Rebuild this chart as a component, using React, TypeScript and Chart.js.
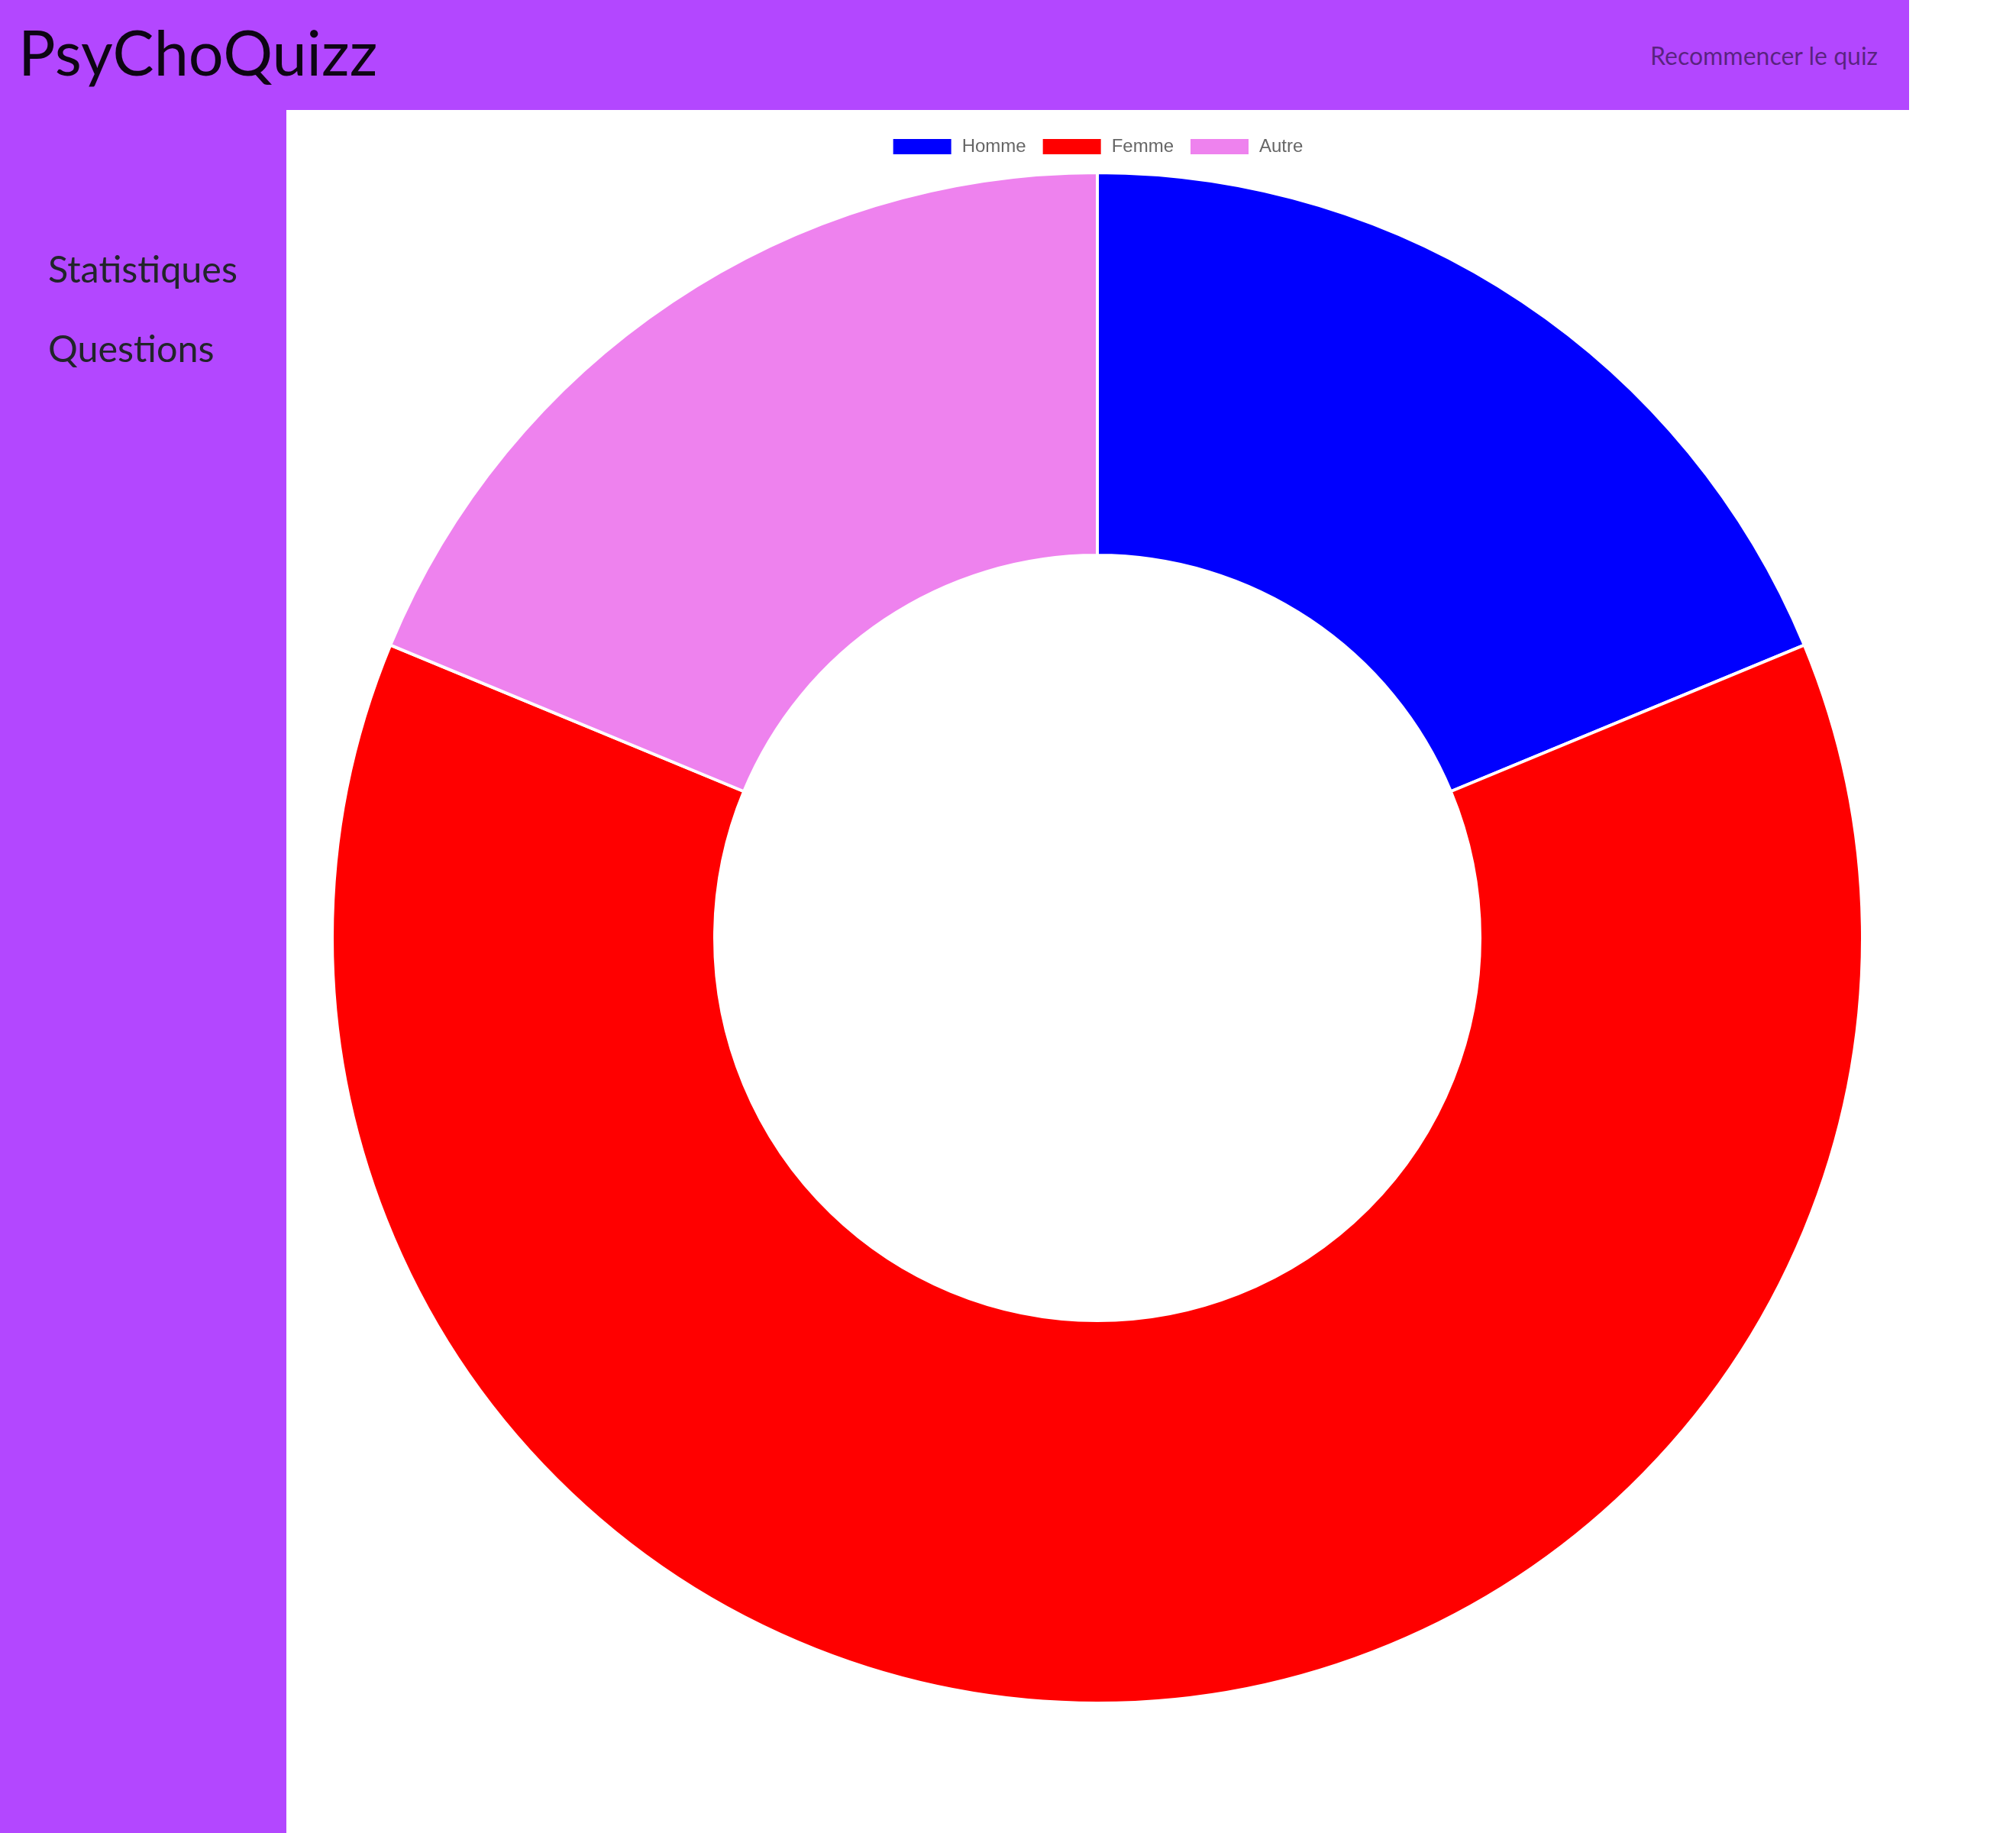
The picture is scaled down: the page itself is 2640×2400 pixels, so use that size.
import React, { useEffect, useRef } from "react";
import { Chart, registerables } from "chart.js";

Chart.register(...registerables);

// ---- data ----
const categories: string[] = ["Homme", "Femme", "Autre"];
const counts: number[] = [3, 10, 3];
const sliceColors: string[] = ["#0000ff", "#ff0000", "#ee82ee"];
const navLinks: string[] = ["Statistiques", "Questions"];
const brand = "PsyChoQuizz";
const restartLabel = "Recommencer le quiz";

const PURPLE = "#b347ff";

export default function App() {
  const ref = useRef<HTMLCanvasElement>(null);

  useEffect(() => {
    document.body.style.margin = "0";
    const canvas = ref.current;
    if (!canvas) return;
    const chart = new Chart(canvas, {
      type: "doughnut",
      data: {
        labels: categories,
        datasets: [
          {
            data: counts,
            backgroundColor: sliceColors,
            borderColor: "#ffffff",
            borderWidth: 4,
            hoverBorderWidth: 4,
            hoverOffset: 0,
          },
        ],
      },
      options: {
        responsive: false,
        animation: false,
        devicePixelRatio: 1,
        cutout: "50%",
        layout: { padding: 0 },
        plugins: {
          legend: {
            position: "top",
            labels: {
              boxWidth: 80,
              padding: 20,
              color: "#666666",
              font: { size: 24, family: "'Liberation Sans', Arial, Helvetica, sans-serif" },
            },
          },
          tooltip: { enabled: false },
        },
      },
    });
    return () => chart.destroy();
  }, []);

  const lato = "Lato, 'Noto Sans', sans-serif";

  return (
    <div
      style={{
        position: "fixed",
        left: 0,
        top: 0,
        width: 2640,
        height: 2400,
        overflow: "hidden",
        background: "#ffffff",
      }}
    >
      {/* header */}
      <div style={{ position: "absolute", left: 0, top: 0, width: 2500, height: 144, background: PURPLE }} />
      {/* sidebar */}
      <div style={{ position: "absolute", left: 0, top: 144, width: 375, height: 2256, background: PURPLE }} />

      <div
        style={{
          position: "absolute",
          left: 24,
          top: 27,
          fontFamily: lato,
          fontSize: 81,
          lineHeight: "81px",
          color: "rgba(0,0,0,0.92)",
          whiteSpace: "nowrap",
        }}
      >
        {brand}
      </div>

      <div
        style={{
          position: "absolute",
          left: 2161,
          top: 57,
          fontFamily: lato,
          fontSize: 32,
          lineHeight: "32px",
          color: "rgba(0,0,0,0.5)",
          whiteSpace: "nowrap",
        }}
      >
        {restartLabel}
      </div>

      {navLinks.map((t, i) => (
        <div
          key={t}
          style={{
            position: "absolute",
            left: 63,
            top: 327 + i * 104,
            fontFamily: lato,
            fontSize: 48.5,
            lineHeight: "48.5px",
            color: "#212529",
            whiteSpace: "nowrap",
          }}
        >
          {t}
        </div>
      ))}

      <canvas
        ref={ref}
        width={2008}
        height={2082}
        style={{ position: "absolute", left: 433, top: 160 }}
      />
    </div>
  );
}
